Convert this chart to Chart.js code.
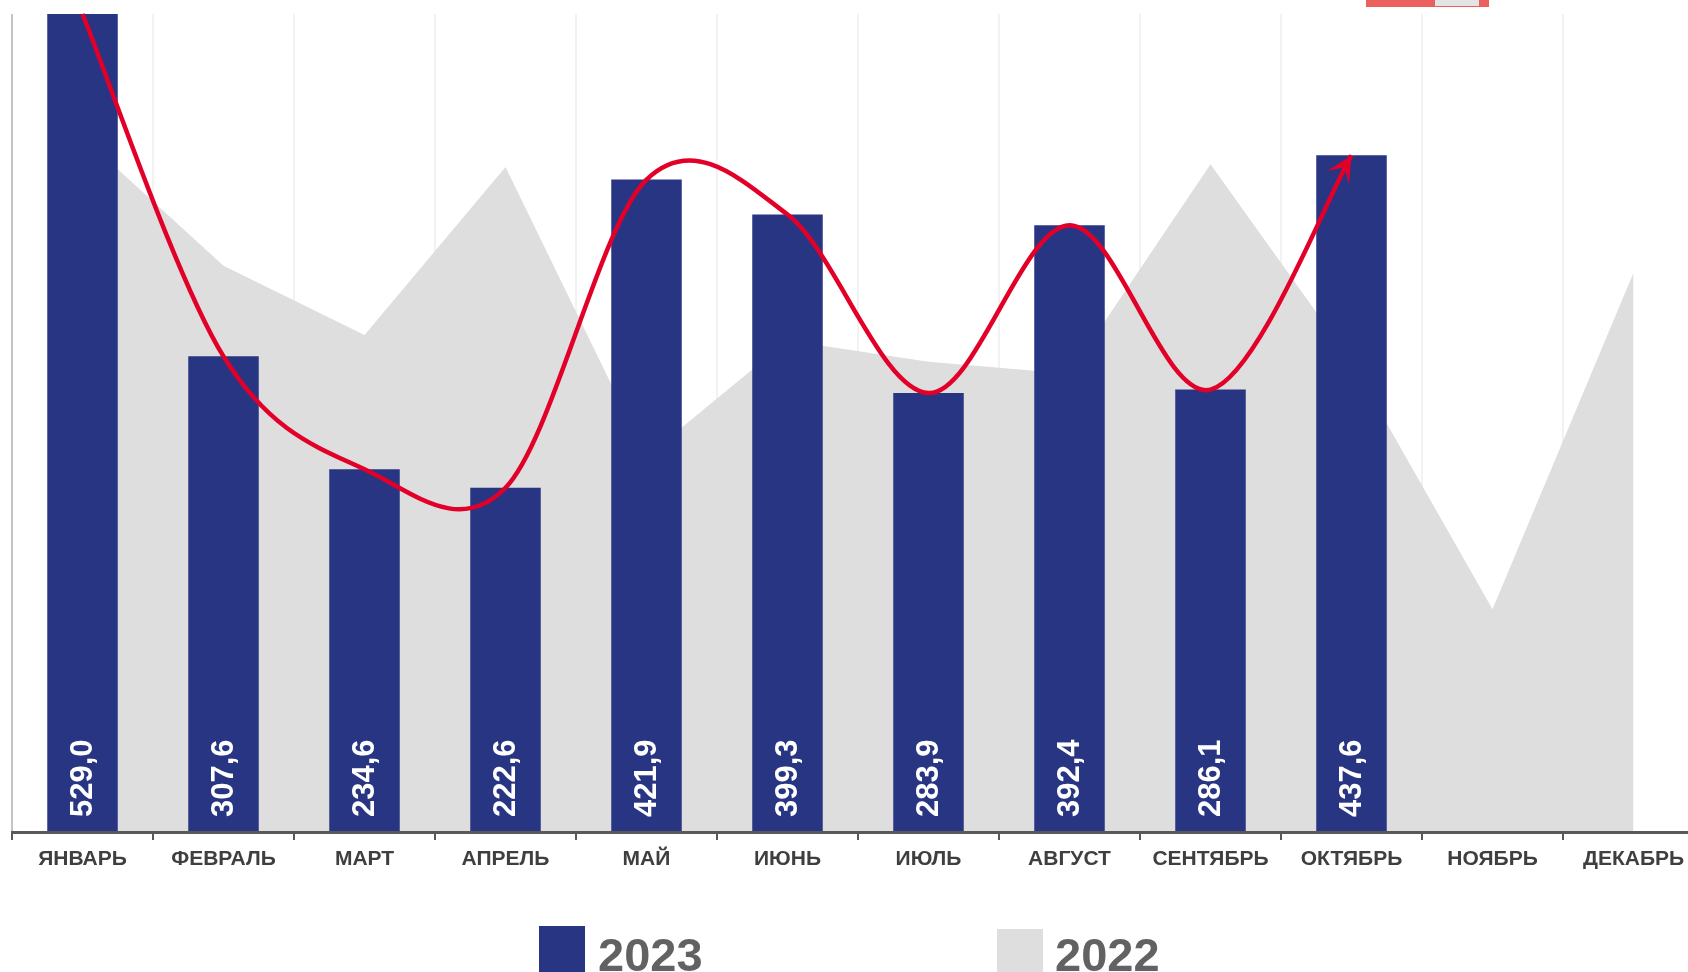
<!DOCTYPE html>
<html lang="ru">
<head>
<meta charset="utf-8">
<title>2023 / 2022</title>
<script src="https://cdn.jsdelivr.net/npm/chart.js@4.4.1/dist/chart.umd.min.js"></script>
<style>
  html, body { margin: 0; padding: 0; background: #fff; overflow: hidden; }
  #marco { position: relative; width: 1688px; height: 972px; overflow: hidden; }
  #grafica { position: absolute; left: 0; top: 0; }
  .caja { position: absolute; width: 46px; height: 60px; }
  .texto { position: absolute; font: bold 47px 'Liberation Sans', Arial, sans-serif; line-height: 47px; color: #626262; }
  #marca { position: absolute; left: 1366px; top: 0; width: 123px; height: 7px; background: #eb5f5f; }
  #marca div { position: absolute; left: 69px; top: 0; width: 44px; height: 6px; background: #e4e4e4; }
</style>
</head>
<body>
<div id="marco">
  <canvas id="grafica" width="1720" height="972"></canvas>
  <div id="marca"><div></div></div>
</div>
<script>
let meses = ['ЯНВАРЬ', 'ФЕВРАЛЬ', 'МАРТ', 'АПРЕЛЬ', 'МАЙ', 'ИЮНЬ', 'ИЮЛЬ', 'АВГУСТ', 'СЕНТЯБРЬ', 'ОКТЯБРЬ', 'НОЯБРЬ', 'ДЕКАБРЬ'];
let valores2023 = [529.0, 307.6, 234.6, 222.6, 421.9, 399.3, 283.9, 392.4, 286.1, 437.6, null, null];
let valores2022 = [449.5, 366.2, 321.4, 430.1, 242.8, 317.8, 304.1, 296.4, 431.8, 304.3, 144.0, 361.7];
let nombresSeries = ['2023', '2022'];

const AZUL = '#283582';
const GRIS = '#dedede';
const ROJO = '#e30028';
const FUENTE = "'Liberation Sans', Arial, sans-serif";

// suavizado tipo Catmull-Rom (1/6) sobre los puntos que calcula Chart.js
let curvaSuave = {
    id: 'curvaSuave',
    beforeDatasetDraw(chart, args) {
        if (args.index !== 2) return;
        args.meta.dataset.updateControlPoints(chart.chartArea, args.meta.indexAxis);
        let pts = args.meta.data.filter(p => !p.skip);
        pts.forEach((p, i) => {
            let a = pts[Math.max(i - 1, 0)];
            let b = pts[Math.min(i + 1, pts.length - 1)];
            let dx = (b.x - a.x) / 6, dy = (b.y - a.y) / 6;
            p.cp1x = p.x - dx; p.cp1y = p.y - dy;
            p.cp2x = p.x + dx; p.cp2y = p.y + dy;
        });
    }
};

// valores dentro de las barras, girados
let etiquetasBarras = {
    id: 'etiquetasBarras',
    afterDatasetsDraw(chart) {
        let ctx = chart.ctx;
        let meta = chart.getDatasetMeta(0);
        ctx.save();
        ctx.fillStyle = '#ffffff';
        ctx.font = 'bold 31px ' + FUENTE;
        ctx.textAlign = 'left';
        ctx.textBaseline = 'middle';
        meta.data.forEach((barra, i) => {
            let v = valores2023[i];
            if (v === null) return;
            ctx.save();
            ctx.translate(barra.x + 1, barra.base - 15);
            ctx.rotate(-Math.PI / 2);
            ctx.fillText(v.toFixed(1).replace('.', ','), 0, 0);
            ctx.restore();
        });
        ctx.restore();
    }
};

// punta de flecha al final de la curva roja
let flecha = {
    id: 'flecha',
    afterDatasetsDraw(chart) {
        let puntos = chart.getDatasetMeta(2).data.filter(p => !p.skip);
        let p = puntos[puntos.length - 1];
        let q = puntos[puntos.length - 2];
        let dx = p.x - p.cp1x, dy = p.y - p.cp1y;
        if (!isFinite(dx) || Math.hypot(dx, dy) < 1) { dx = p.x - q.x; dy = p.y - q.y; }
        let largo = Math.hypot(dx, dy);
        let ux = dx / largo, uy = dy / largo;
        let vx = -uy, vy = ux;
        let ctx = chart.ctx;
        ctx.save();
        ctx.fillStyle = ROJO;
        ctx.beginPath();
        ctx.moveTo(p.x, p.y);
        ctx.lineTo(p.x - 26 * ux + 12.7 * vx, p.y - 26 * uy + 12.7 * vy);
        ctx.lineTo(p.x - 14 * ux, p.y - 14 * uy);
        ctx.lineTo(p.x - 26 * ux - 12.7 * vx, p.y - 26 * uy - 12.7 * vy);
        ctx.closePath();
        ctx.fill();
        ctx.restore();
    }
};

let chartConfig = {
    type: 'bar',
    data: {
        labels: meses,
        datasets: [{
            type: 'bar',
            label: nombresSeries[0],
            data: valores2023,
            backgroundColor: AZUL,
            barPercentage: 0.5,
            categoryPercentage: 1,
            order: 2
        }, {
            type: 'line',
            label: nombresSeries[1],
            data: valores2022,
            backgroundColor: GRIS,
            borderColor: 'rgba(0,0,0,0)',
            borderWidth: 0,
            pointRadius: 0,
            fill: 'origin',
            tension: 0,
            order: 3
        }, {
            type: 'line',
            label: 'тренд',
            data: valores2023,
            borderColor: ROJO,
            borderWidth: 4.5,
            pointRadius: 0,
            fill: false,
            tension: 0.5,
            clip: false,
            order: 1
        }]
    },
    options: {
        responsive: false,
        animation: false,
        events: [],
        layout: { padding: { top: 14, left: 12, right: 16, bottom: 70 } },
        plugins: {
            legend: { display: false },
            tooltip: { enabled: false }
        },
        scales: {
            x: {
                offset: true,
                grid: {
                    offset: true,
                    color: c => c.index === 0 ? '#c4c4c4' : '#f2f2f2',
                    lineWidth: 2,
                    tickColor: '#595959',
                    tickWidth: 2,
                    tickLength: 8
                },
                border: { color: '#595959', width: 3, z: 1 },
                ticks: {
                    color: '#3f3f3f',
                    font: { family: FUENTE, size: 21, weight: 'bold' },
                    padding: 7,
                    maxRotation: 0,
                    autoSkip: false
                },
                afterFit: s => { s.height = 70; }
            },
            y: { display: false, min: 0, max: 529 }
        }
    },
    plugins: [curvaSuave, etiquetasBarras, flecha]
};

let chart = new Chart(document.getElementById('grafica'), chartConfig);

// leyenda
let marco = document.getElementById('marco');
let leyenda = [
    { texto: nombresSeries[0], color: AZUL, cajaX: 539, cajaY: 926, textoX: 598 },
    { texto: nombresSeries[1], color: GRIS, cajaX: 997, cajaY: 929, textoX: 1055 }
];
for (let item of leyenda) {
    let caja = document.createElement('div');
    caja.className = 'caja';
    caja.style.left = item.cajaX + 'px';
    caja.style.top = item.cajaY + 'px';
    caja.style.background = item.color;
    marco.appendChild(caja);
    let texto = document.createElement('div');
    texto.className = 'texto';
    texto.style.left = item.textoX + 'px';
    texto.style.top = '931px';
    texto.textContent = item.texto;
    marco.appendChild(texto);
}
</script>
</body>
</html>
